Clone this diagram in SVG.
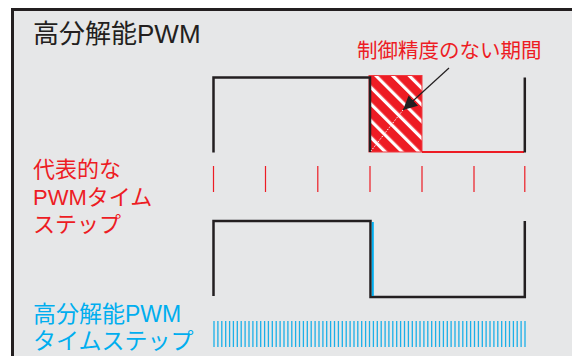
<svg xmlns="http://www.w3.org/2000/svg" width="572" height="356" viewBox="0 0 572 356">
<style>
text{font-family:"Liberation Sans","Noto Sans CJK JP",sans-serif}
.title{font-size:26px;fill:#231f20}
.red{fill:#ed1c24}
.blue{fill:#00aeef}
.wave{fill:none;stroke:#231f20;stroke-width:2.5;stroke-linejoin:miter;stroke-linecap:butt}
.rtick{stroke:#ed1c24;stroke-width:1.2;fill:none}
.btick{stroke:#1cb0e8;stroke-width:1.3;fill:none}
</style>
<defs>
<pattern id="hatch" patternUnits="userSpaceOnUse" width="11.8" height="11.8" patternTransform="translate(373 75) rotate(-45)">
<rect x="0" y="0" width="3.2" height="11.8" fill="#ffffff"/>
</pattern>
<marker id="ah" viewBox="0 0 10 10" refX="10" refY="5" markerWidth="14" markerHeight="14" markerUnits="userSpaceOnUse" orient="auto">
<path d="M0,0 L10,5 L0,10 z" fill="#231f20"/>
</marker>
</defs>
<rect x="0" y="0" width="572" height="356" fill="#ffffff"/>
<rect id="frame" x="12.5" y="9.5" width="600" height="400" fill="#e6e7e8" stroke="#231f20" stroke-width="3"/>
<g id="title"><text class="title" x="33" y="43">高分解能PWM</text></g>
<g id="label-nocontrol"><text class="red" x="357" y="57.5" font-size="20.5">制御精度のない期間</text></g>
<g id="label-pwm-step">
<text class="red" font-size="22" x="33" y="176.5">代表的な</text>
<text class="red" font-size="22" x="33" y="204.5">PWMタイム</text>
<text class="red" font-size="22" x="33" y="232">ステップ</text>
</g>
<g id="label-hr-step">
<text class="blue" font-size="23" x="33" y="322">高分解能PWM</text>
<text class="blue" font-size="23" x="33" y="348.5">タイムステップ</text>
</g>
<g id="uncontrolled-box">
<rect x="369" y="75.5" width="53" height="76.5" fill="#ed1c24" stroke="#ef3a40" stroke-width="1"/>
<rect x="369.5" y="76" width="52" height="75.5" fill="url(#hatch)"/>
</g>
<g id="wave-top">
<path class="wave" d="M213.5,152.5 V77.5 H370 V152"/>
<path d="M422,152 H524" stroke="#ed1c24" stroke-width="2" fill="none"/>
<path class="wave" d="M524.8,152.5 V77.5"/>
</g>
<g id="red-ticks">
<path class="rtick" d="M213.5,166V192 M265.5,166V192 M317.8,166V192 M370,166V192 M422,166V192 M474,166V192 M524.8,166V192"/>
</g>
<g id="wave-bottom">
<path class="wave" d="M213.5,296 V221 H370.5 V297 H524.8 V221"/>
<path d="M372.8,222 V296" stroke="#00aeef" stroke-width="2" fill="none"/>
</g>
<g id="blue-ticks">
<path class="btick" d="M214.0,321V347 M217.9,321V347 M221.8,321V347 M225.7,321V347 M229.6,321V347 M233.4,321V347 M237.3,321V347 M241.2,321V347 M245.1,321V347 M249.0,321V347 M252.9,321V347 M256.8,321V347 M260.7,321V347 M264.6,321V347 M268.4,321V347 M272.3,321V347 M276.2,321V347 M280.1,321V347 M284.0,321V347 M287.9,321V347 M291.8,321V347 M295.6,321V347 M299.5,321V347 M303.4,321V347 M307.3,321V347 M311.2,321V347 M315.1,321V347 M319.0,321V347 M322.9,321V347 M326.7,321V347 M330.6,321V347 M334.5,321V347 M338.4,321V347 M342.3,321V347 M346.2,321V347 M350.1,321V347 M354.0,321V347 M357.8,321V347 M361.7,321V347 M365.6,321V347 M369.5,321V347 M373.4,321V347 M377.3,321V347 M381.2,321V347 M385.1,321V347 M388.9,321V347 M392.8,321V347 M396.7,321V347 M400.6,321V347 M404.5,321V347 M408.4,321V347 M412.3,321V347 M416.2,321V347 M420.0,321V347 M423.9,321V347 M427.8,321V347 M431.7,321V347 M435.6,321V347 M439.5,321V347 M443.4,321V347 M447.3,321V347 M451.1,321V347 M455.0,321V347 M458.9,321V347 M462.8,321V347 M466.7,321V347 M470.6,321V347 M474.5,321V347 M478.4,321V347 M482.3,321V347 M486.1,321V347 M490.0,321V347 M493.9,321V347 M497.8,321V347 M501.7,321V347 M505.6,321V347 M509.5,321V347 M513.4,321V347 M517.2,321V347 M521.1,321V347 M525.0,321V347"/>
</g>
<g id="connectors">
<line x1="449" y1="68" x2="403" y2="110" stroke="#231f20" stroke-width="1.2" marker-end="url(#ah)"/>
<line x1="403" y1="110" x2="371" y2="151" stroke="#ffffff" stroke-width="1" stroke-dasharray="1.5 1.5"/>
</g>
</svg>
